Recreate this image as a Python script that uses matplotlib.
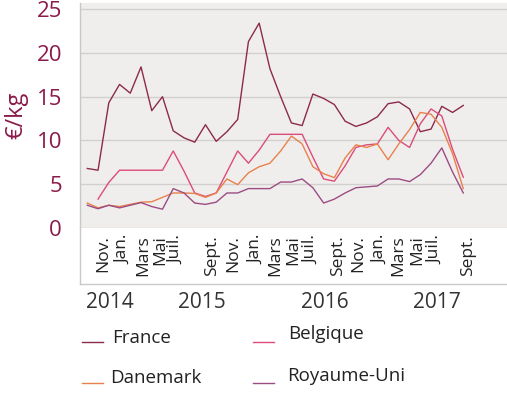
import matplotlib
matplotlib.use("Agg")
import matplotlib.pyplot as plt
from matplotlib.lines import Line2D
import numpy as np

plt.rcParams['font.family'] = ['Open Sans', 'DejaVu Sans']

# ---- data (monthly, Oct 2014 -> Sept 2017) ----
france = [6.8, 6.6, 14.3, 16.4, 15.4, 18.4, 13.4, 15.0, 11.1, 10.3,
          9.8, 11.8, 9.9, 11.0, 12.4, 21.3, 23.4, 18.2, 15.0, 12.0,
          11.7, 15.3, 14.8, 14.1, 12.2, 11.6, 12.0, 12.7, 14.2, 14.4,
          13.6, 11.0, 11.3, 13.9, 13.2, 14.0]
belgique = [None, 3.3, 5.2, 6.6, 6.6, 6.6, 6.6, 6.6, 8.8, 6.5,
            4.0, 3.6, 4.0, 6.4, 8.8, 7.4, 8.9, 10.7, 10.7, 10.7,
            10.7, 8.1, 5.6, 5.35, 7.1, 9.2, 9.5, 9.6, 11.5, 10.0,
            9.2, 11.9, 13.6, 12.8, 9.0, 5.8]
danemark = [2.85, 2.3, 2.6, 2.45, 2.7, 2.95, 3.0, 3.5, 4.0, 4.0,
            3.95, 3.5, 4.0, 5.6, 4.95, 6.3, 7.0, 7.4, 8.8, 10.5,
            9.6, 7.0, 6.2, 5.75, 8.0, 9.5, 9.2, 9.6, 7.8, 9.6,
            11.25, 13.2, 13.0, 11.5, 8.5, 4.5]
royaume_uni = [2.6, 2.2, 2.6, 2.3, 2.6, 2.9, 2.45, 2.15, 4.5, 4.0,
               2.85, 2.7, 2.95, 4.0, 4.0, 4.5, 4.5, 4.5, 5.25, 5.25,
               5.6, 4.6, 2.85, 3.3, 4.0, 4.6, 4.7, 4.8, 5.6, 5.6,
               5.3, 6.1, 7.4, 9.15, 6.4, 4.0]

series_names = ["France", "Belgique", "Danemark", "Royaume-Uni"]
month_labels = ["Nov.", "Jan.", "Mars", "Mai", "Juil.", "Sept.",
                "Nov.", "Jan.", "Mars", "Mai", "Juil.", "Sept.",
                "Nov.", "Jan.", "Mars", "Mai", "Juil.", "Sept."]
year_labels = ["2014", "2015", "2016", "2017"]
y_ticks = [0, 5, 10, 15, 20, 25]

# ---- layout / style ----
month_pos = [1.49, 3.35, 5.21, 6.77, 8.32, 11.58, 13.59, 15.77, 17.48,
             19.18, 20.89, 23.37, 25.23, 27.25, 28.96, 30.67, 32.37, 35.47]
year_px = [110, 202, 325, 437]
colors = ["#8c2a4e", "#dc4c7a", "#e8814c", "#9c4c82"]
wine = "#8b1a4a"

W, H = 507, 393
fig = plt.figure(figsize=(W / 100, H / 100), dpi=100)
fig.patch.set_facecolor("white")

ax_l, ax_r, ax_t, ax_b = 80, 507, 3, 228
ax = fig.add_axes([ax_l / W, 1 - ax_b / H, (ax_r - ax_l) / W, (ax_b - ax_t) / H])
ax.set_facecolor("#f0eeed")

x = np.arange(len(france))
data = [france, belgique, danemark, royaume_uni]
for vals, c, name in zip(data, colors, series_names):
    v = np.array([np.nan if d is None else d for d in vals], dtype=float)
    ax.plot(x, v, color=c, lw=1.0, label=name)

ax.set_xlim(-0.68, 39.07)
ax.set_ylim(0, 25.7)
ax.set_yticks(y_ticks)
ax.set_yticklabels([str(t) for t in y_ticks], color=wine, fontsize=16)
ax.yaxis.grid(True, color="#d2d0cf", lw=1.0)
ax.set_axisbelow(True)
ax.tick_params(axis="y", length=0, pad=13)
ax.set_xticks(month_pos)
ax.set_xticklabels(month_labels, rotation=90, fontsize=12.5, color="#222222")
ax.tick_params(axis="x", length=0, pad=5)
for s in ["top", "right", "bottom"]:
    ax.spines[s].set_visible(False)
ax.spines["left"].set_color("#c8c8c8")
ax.spines["left"].set_linewidth(1.0)

ax.set_ylabel("€/kg", color=wine, fontsize=17, labelpad=6)

# border around month label area
fig.add_artist(Line2D([ax_l / W, ax_l / W], [1 - ax_b / H, 1 - 284 / H],
                      transform=fig.transFigure, color="#c8c8c8", lw=1.0))
fig.add_artist(Line2D([ax_l / W, 1.0], [1 - 284 / H, 1 - 284 / H],
                      transform=fig.transFigure, color="#c8c8c8", lw=1.0))

for lbl, px in zip(year_labels, year_px):
    fig.text(px / W, 1 - 302 / H, lbl, ha="center", va="center",
             fontsize=15, color="#333333")

# legend (manual, 2x2)
leg_items = [(82, 342, 112, 338), (253, 342, 288, 334),
             (82, 383, 110, 378), (253, 383, 287, 376)]
for (lx, ly, tx, ty), name, c in zip(leg_items, series_names, colors):
    fig.add_artist(Line2D([lx / W, (lx + 21) / W], [1 - ly / H, 1 - ly / H],
                          transform=fig.transFigure, color=c, lw=1.0))
    fig.text(tx / W, 1 - ty / H, name, ha="left", va="center",
             fontsize=13.5, color="#222222")

fig.savefig("out.png", dpi=100)
